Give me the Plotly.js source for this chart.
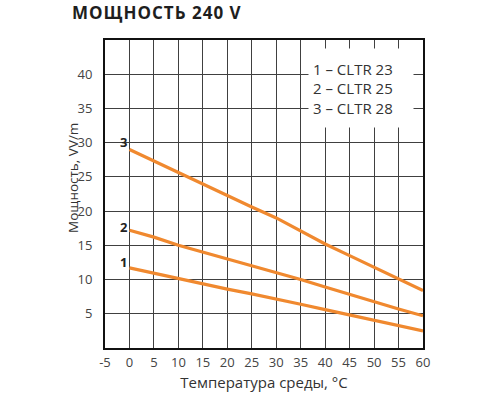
<!DOCTYPE html>
<html>
<head>
<meta charset="utf-8">
<script src="https://cdn.plot.ly/plotly-3.0.1.min.js"></script>
<style>
  html, body { margin: 0; padding: 0; background: #fff; }
  #chart { width: 500px; height: 400px; }
  /* the printed heading is slightly tracked */
  #chart .gtitle { letter-spacing: 1px; }
</style>
</head>
<body>
<div id="chart"></div>
<script>
// Temperature of the environment, °C
const temps = [0, 5, 10, 15, 20, 25, 30, 35, 40, 45, 50, 55, 60];

// Power, W/m, per cable type
const cltr23 = [11.7, 10.9, 10.1, 9.35, 8.6, 7.9, 7.2, 6.4, 5.6, 4.85, 4.1, 3.3, 2.5];
const cltr25 = [17.2, 16.2, 15.0, 14.0, 13.0, 12.0, 11.1, 10.0, 8.9, 7.8, 6.8, 5.7, 4.7];
const cltr28 = [29.0, 27.3, 25.7, 24.0, 22.3, 20.6, 19.0, 17.1, 15.2, 13.5, 11.8, 10.1, 8.4];

const seriesNames = ['1 – CLTR 23', '2 – CLTR 25', '3 – CLTR 28'];
const curveLabels = ['1', '2', '3'];
const xTicks = [-5, 0, 5, 10, 15, 20, 25, 30, 35, 40, 45, 50, 55, 60];
const yTicks = [5, 10, 15, 20, 25, 30, 35, 40];

const ORANGE = '#f0892f';
const FONT = 'Open Sans, Noto Sans, sans-serif';

const traces = [cltr23, cltr25, cltr28].map((ys, i) => ({
    x: temps,
    y: ys,
    name: seriesNames[i],
    type: 'scatter',
    mode: 'lines',
    line: { color: ORANGE, width: 3.2 },
    hoverinfo: 'skip',
}));

// curve numbers sit just up-left of each start point (pixel nudges)
const labelLift = [6, 3, 8];
const numberNotes = [cltr23, cltr25, cltr28].map((ys, i) => ({
    x: -1.2,
    y: ys[0],
    xref: 'x',
    yref: 'y',
    text: '<b>' + curveLabels[i] + '</b>',
    showarrow: false,
    xanchor: 'center',
    yanchor: 'middle',
    yshift: labelLift[i],
    font: { family: FONT, size: 13, color: '#222' },
}));

const legendNote = {
    x: 47.4,
    y: 38,
    xref: 'x',
    yref: 'y',
    text: seriesNames.join('<br>'),
    showarrow: false,
    align: 'left',
    width: 96,
    height: 70,
    borderpad: 4,
    bgcolor: '#ffffff',
    font: { family: FONT, size: 15, color: '#333' },
};

// y title sits a bit above the plot's middle in the original
// (paper coords are relative to the plot area: left 105px, 318px wide, top 40px, 308px tall)
const yTitleNote = {
    x: (73 - 105) / 318,
    y: 1 - (178 - 40) / 308,
    xref: 'paper',
    yref: 'paper',
    text: 'Мощность, VV/m',
    textangle: -90,
    showarrow: false,
    xanchor: 'center',
    yanchor: 'middle',
    font: { family: FONT, size: 13.5, color: '#333' },
};

const axisCommon = {
    showgrid: true,
    gridcolor: '#404040',
    gridwidth: 1,
    showline: true,
    linecolor: '#111',
    linewidth: 2,
    mirror: true,
    zeroline: false,
    ticks: '',
    tickfont: { family: FONT, size: 13, color: '#444' },
    fixedrange: true,
};

const layout = {
    width: 500,
    height: 400,
    paper_bgcolor: '#fff',
    plot_bgcolor: '#fff',
    showlegend: false,
    margin: { l: 105, r: 77, t: 40, b: 52 },
    title: {
        text: '<b>МОЩНОСТЬ 240 V</b>',
        x: 72 / 500,
        xanchor: 'left',
        y: 0.967,
        yanchor: 'middle',
        font: { family: FONT, size: 17, color: '#1e1e1e' },
    },
    xaxis: {
        ...axisCommon,
        range: [-5, 60],
        tickvals: xTicks,
        ticktext: xTicks.map(String),
        ticklabelstandoff: 1,
        title: {
            text: 'Температура среды, °C',
            font: { family: FONT, size: 15, color: '#333' },
            standoff: 8,
        },
    },
    yaxis: {
        ...axisCommon,
        range: [0, 45],
        tickvals: yTicks,
        ticktext: yTicks.map(String),
        ticklabelstandoff: 8,
    },
    annotations: [...numberNotes, legendNote, yTitleNote],
};

Plotly.newPlot('chart', traces, layout, { displayModeBar: false, staticPlot: true });
</script>
</body>
</html>
